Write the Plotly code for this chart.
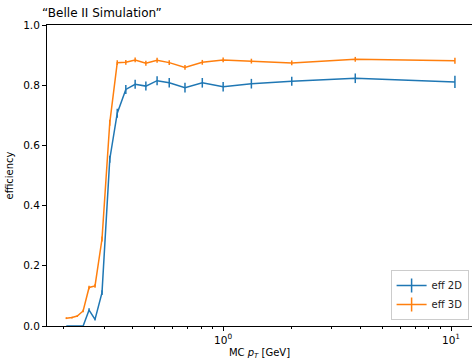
import plotly.graph_objects as go

# Transverse momentum bin centres [GeV]
pt = [0.205, 0.217, 0.229, 0.243, 0.258, 0.274, 0.294, 0.318, 0.343, 0.374,
      0.411, 0.458, 0.513, 0.58, 0.68, 0.81, 1.0, 1.33, 2.0, 3.8, 10.4]

eff_2d = [0.0, 0.0, 0.0, 0.0, 0.053, 0.022, 0.111, 0.554, 0.707, 0.786,
          0.803, 0.797, 0.815, 0.808, 0.792, 0.808, 0.795, 0.805, 0.813, 0.823, 0.811]
err_2d = [0.0, 0.0, 0.0, 0.0, 0.006, 0.004, 0.008, 0.012, 0.015, 0.015,
          0.015, 0.015, 0.015, 0.016, 0.016, 0.016, 0.016, 0.016, 0.015, 0.016, 0.02]

eff_3d = [0.026, 0.028, 0.033, 0.050, 0.128, 0.133, 0.289, 0.675, 0.875, 0.876,
          0.884, 0.873, 0.883, 0.875, 0.859, 0.876, 0.884, 0.880, 0.874, 0.886, 0.881]
err_3d = [0.003, 0.003, 0.003, 0.004, 0.006, 0.006, 0.008, 0.010, 0.008, 0.008,
          0.008, 0.008, 0.008, 0.008, 0.008, 0.008, 0.008, 0.008, 0.008, 0.008, 0.010]

series = [("eff 2D", eff_2d, err_2d, "#1f77b4"),
          ("eff 3D", eff_3d, err_3d, "#ff7f0e")]

FONT = "DejaVu Sans"
fig = go.Figure()

for name, y, err, color in series:
    fig.add_trace(go.Scatter(
        x=pt, y=y, mode="lines", name=name, showlegend=False,
        line=dict(color=color, width=1.5),
        error_y=dict(type="data", array=err, visible=True,
                     color=color, thickness=1.5, width=0),
    ))

# legend entries: line with a vertical error-bar glyph
for name, y, err, color in series:
    fig.add_trace(go.Scatter(
        x=[None], y=[None], mode="lines+markers", name=name,
        line=dict(color=color, width=1.5),
        marker=dict(symbol="line-ns", size=10,
                    line=dict(color=color, width=1.5)),
    ))

minor_vals = [v * d for d in (0.1, 1.0) for v in range(2, 10)]

fig.update_layout(
    width=472, height=360,
    margin=dict(l=47, r=0, t=25, b=34),
    paper_bgcolor="white", plot_bgcolor="white",
    font=dict(family=FONT, size=10, color="black"),
    showlegend=True,
    legend=dict(x=0.992, y=0.02, xanchor="right", yanchor="bottom",
                bordercolor="#cccccc", borderwidth=1, bgcolor="rgba(255,255,255,0.8)",
                font=dict(family=FONT, size=10, color="#222"),
                itemwidth=30, tracegroupgap=0),
    annotations=[dict(text="\u201cBelle II Simulation\u201d", xref="paper", yref="paper",
                      x=-0.016, y=1.0, xanchor="left", yanchor="bottom", yshift=3,
                      showarrow=False, font=dict(family=FONT, size=12, color="black"))],
)

fig.update_xaxes(
    type="log", range=[-0.773, 1.092],
    showgrid=False, zeroline=False,
    showline=True, linecolor="black", linewidth=1, mirror=True,
    ticks="outside", ticklen=4, tickwidth=1, tickcolor="black",
    tickvals=[1, 10], ticktext=["10<sup>0</sup>", "10<sup>1</sup>"],
    tickfont=dict(family=FONT, size=10.5),
    minor=dict(ticks="outside", ticklen=2, tickwidth=0.8, tickcolor="black",
               tickvals=minor_vals, showgrid=False),
    title=dict(text="MC <i>p</i><sub><i>T</i></sub> [GeV]", standoff=5,
               font=dict(family=FONT, size=10)),
    layer="below traces",
)

fig.update_yaxes(
    range=[0, 1.0],
    showgrid=False, zeroline=False,
    showline=True, linecolor="black", linewidth=1, mirror=False,
    ticks="outside", ticklen=4, tickwidth=1, tickcolor="black",
    tickvals=[0, 0.2, 0.4, 0.6, 0.8, 1.0], tickformat=".1f",
    tickfont=dict(family=FONT, size=10.5),
    title=dict(text="efficiency", standoff=7, font=dict(family=FONT, size=10)),
    layer="below traces",
)

fig.write_html("out.html")
